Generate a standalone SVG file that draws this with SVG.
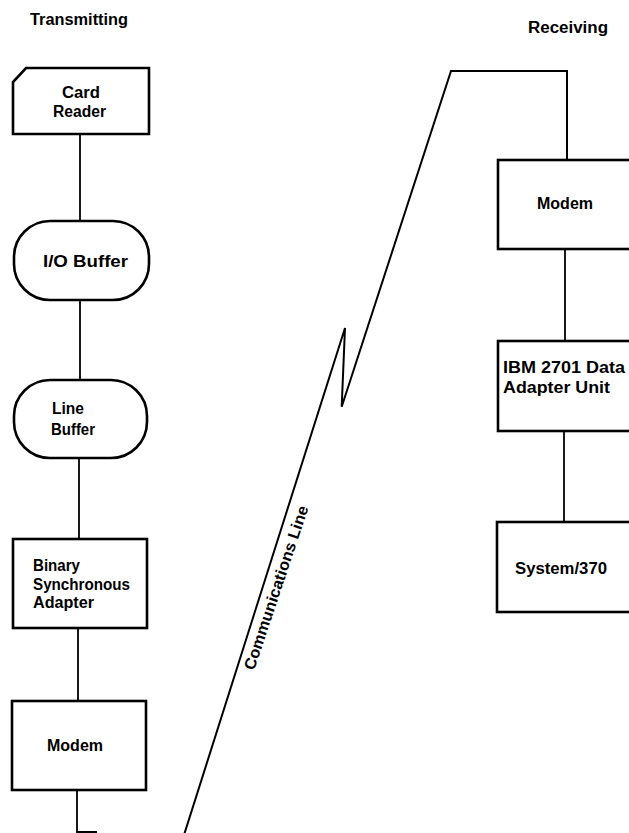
<svg xmlns="http://www.w3.org/2000/svg" width="629" height="833" viewBox="0 0 629 833">
<style>
.box{fill:#fff;stroke:#000;stroke-width:2.6}
.ln{fill:none;stroke:#000;stroke-width:1.8}
.cl{fill:none;stroke:#000;stroke-width:2;stroke-linejoin:miter}
text{font-family:"Liberation Sans",Arial,sans-serif;font-weight:bold;font-size:16px;fill:#000}
</style>
<rect width="629" height="833" fill="#fff"/>
<text x="30" y="25" textLength="98" lengthAdjust="spacingAndGlyphs">Transmitting</text>
<text x="528" y="33" textLength="80" lengthAdjust="spacingAndGlyphs">Receiving</text>
<g id="connectors">
<path class="ln" d="M80,134 V221"/>
<path class="ln" d="M80,300 V380"/>
<path class="ln" d="M79,458 V539"/>
<path class="ln" d="M78,628 V701"/>
<path class="ln" d="M77,790 V832 H97"/>
<path class="cl" d="M184,835 L345,328 L341.7,406.7 L451,71 H567 V160"/>
<path class="ln" d="M565,249 V341"/>
<path class="ln" d="M564,431 V522"/>
<text x="0" y="0" transform="translate(254,671) rotate(-71.5)" font-size="15" textLength="172" lengthAdjust="spacingAndGlyphs">Communications Line</text>
</g>
<g id="card-reader">
<path class="box" d="M26,68 H149 V134 H13 V82 Z"/>
<text x="62" y="98" textLength="38" lengthAdjust="spacingAndGlyphs">Card</text>
<text x="53" y="117" textLength="53" lengthAdjust="spacingAndGlyphs">Reader</text>
</g>
<g id="io-buffer">
<rect class="box" x="14" y="221" width="135" height="79" rx="36" ry="36"/>
<text x="43" y="267" textLength="85" lengthAdjust="spacingAndGlyphs">I/O Buffer</text>
</g>
<g id="line-buffer">
<rect class="box" x="14" y="380" width="133" height="78" rx="36" ry="36"/>
<text x="52" y="414" textLength="32" lengthAdjust="spacingAndGlyphs">Line</text>
<text x="51" y="435" textLength="44" lengthAdjust="spacingAndGlyphs">Buffer</text>
</g>
<g id="bsa">
<rect class="box" x="13" y="539" width="134" height="89"/>
<text x="33" y="571" textLength="47" lengthAdjust="spacingAndGlyphs">Binary</text>
<text x="33" y="590" textLength="97" lengthAdjust="spacingAndGlyphs">Synchronous</text>
<text x="33" y="608" textLength="61" lengthAdjust="spacingAndGlyphs">Adapter</text>
</g>
<g id="modem-tx">
<rect class="box" x="12" y="701" width="134" height="89"/>
<text x="47" y="751" textLength="56" lengthAdjust="spacingAndGlyphs">Modem</text>
</g>
<g id="modem-rx">
<rect class="box" x="498" y="160" width="140" height="89"/>
<text x="537" y="209" textLength="56" lengthAdjust="spacingAndGlyphs">Modem</text>
</g>
<g id="ibm2701">
<rect class="box" x="498" y="341" width="140" height="90"/>
<text x="503" y="373" textLength="122" lengthAdjust="spacingAndGlyphs">IBM 2701 Data</text>
<text x="503" y="393" textLength="107" lengthAdjust="spacingAndGlyphs">Adapter Unit</text>
</g>
<g id="system370">
<rect class="box" x="497" y="522" width="140" height="90"/>
<text x="515" y="574" textLength="92" lengthAdjust="spacingAndGlyphs">System/370</text>
</g>
</svg>
